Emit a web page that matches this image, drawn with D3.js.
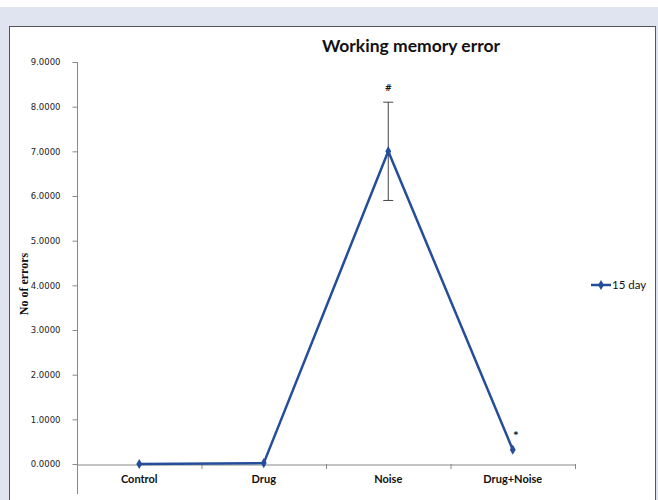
<!DOCTYPE html>
<html><head><meta charset="utf-8">
<script src="https://cdn.jsdelivr.net/npm/d3@7"></script>
<style>body{margin:0;background:#fff}svg{display:block}</style>
</head><body>
<script>
const categories = ["Control","Drug","Noise","Drug+Noise"];
const values = [0, 0.02, 7.0, 0.32];
const errLow = [null, null, 5.9, null];
const errHigh = [null, null, 8.1, null];
const marks = ["", "", "#", "*"];
const yTicks = [0,1,2,3,4,5,6,7,8,9];
const seriesName = "15 day";

const W = 658, H = 500;
const svg = d3.select("body").append("svg").attr("width", W).attr("height", H);
svg.append("rect").attr("x",0).attr("y",7).attr("width",W).attr("height",H-7).attr("fill","#e0e4f1");
svg.append("rect").attr("x",9.5).attr("y",26.5).attr("width",646).attr("height",480).attr("fill","#fff").attr("stroke","#555").attr("stroke-width",1);

const x = d3.scaleBand().domain(categories).range([77,575]);
const y = d3.scaleLinear().domain([0,9]).range([464,62]);
const axisColor = "#888";

// Y axis
const ya = svg.append("g").attr("transform","translate(77.5,0)")
  .call(d3.axisLeft(y).tickValues(yTicks).tickFormat(d3.format(".4f")).tickSize(5).tickPadding(12));
ya.select(".domain").remove();
ya.selectAll("line").attr("stroke",axisColor);
ya.selectAll("text").attr("font-family","Verdana, 'DejaVu Sans', sans-serif").attr("font-size",8.5).attr("fill","#222").attr("dy","0.35em");
svg.append("line").attr("x1",77.5).attr("x2",77.5).attr("y1",y(9)).attr("y2",494).attr("stroke",axisColor);

// X axis
const xa = svg.append("g").attr("transform","translate(0,"+(y(0)+0.5)+")")
  .call(d3.axisBottom(x).tickSize(0).tickPadding(11));
xa.select(".domain").attr("stroke",axisColor);
xa.selectAll("text").attr("font-family","Lato, 'Open Sans', sans-serif").attr("font-weight","bold").attr("font-size",11).attr("fill","#111");
const bounds = x.domain().map(d=>x(d)).concat([x.range()[1]]);
svg.append("g").selectAll("line").data(bounds.slice(1)).join("line")
  .attr("x1",d=>d+0.5).attr("x2",d=>d+0.5).attr("y1",y(0)).attr("y2",y(0)+5).attr("stroke",axisColor);

// Y label
svg.append("text").attr("transform","translate(28,"+284+") rotate(-90)")
  .attr("text-anchor","middle").attr("font-family","'Liberation Serif', 'Times New Roman', serif")
  .attr("font-weight","bold").attr("font-size",12).attr("fill","#111").text("No of errors");

// Title
svg.append("text").attr("x",411).attr("y",52).attr("text-anchor","middle")
  .attr("font-family","Lato, 'Open Sans', sans-serif").attr("font-weight","bold").attr("font-size",17.5).attr("fill","#111")
  .text("Working memory error");

const cx = d => x(d) + x.bandwidth()/2;
const data = categories.map((c,i)=>({c, v: values[i], lo: errLow[i], hi: errHigh[i], m: marks[i]}));

// Error bars
const eb = data.filter(d=>d.lo!=null);
const ebg = svg.append("g").attr("stroke","#444").attr("stroke-width",1);
eb.forEach(d=>{
  ebg.append("line").attr("x1",cx(d.c)).attr("x2",cx(d.c)).attr("y1",y(d.lo)).attr("y2",y(d.hi));
  ebg.append("line").attr("x1",cx(d.c)-5).attr("x2",cx(d.c)+5).attr("y1",y(d.lo)).attr("y2",y(d.lo));
  ebg.append("line").attr("x1",cx(d.c)-5).attr("x2",cx(d.c)+5).attr("y1",y(d.hi)).attr("y2",y(d.hi));
});

const blue = "#244d9b";
svg.append("path").datum(data).attr("fill","none").attr("stroke",blue).attr("stroke-width",2.5)
  .attr("stroke-linejoin","round")
  .attr("d", d3.line().x(d=>cx(d.c)).y(d=>y(d.v)));
const diamond = d3.symbol().type(d3.symbolDiamond).size(30);
svg.append("g").selectAll("path").data(data).join("path")
  .attr("transform",d=>"translate("+cx(d.c)+","+y(d.v)+")").attr("d",diamond).attr("fill",blue);

// Significance marks
svg.append("text").attr("x",cx("Noise")).attr("y",y(8.1)-11).attr("text-anchor","middle")
  .attr("font-family","'DejaVu Sans', sans-serif").attr("font-weight","bold").attr("font-size",8).attr("fill","#111").text(marks[2]);
svg.append("text").attr("x",cx("Drug+Noise")+3).attr("y",y(0.32)-12).attr("text-anchor","middle")
  .attr("font-family","'DejaVu Sans', sans-serif").attr("font-weight","bold").attr("font-size",9).attr("fill","#111").text(marks[3]);

// Legend
const lg = svg.append("g").attr("transform","translate(591,285)");
lg.append("line").attr("x1",0).attr("x2",20).attr("y1",0).attr("y2",0).attr("stroke",blue).attr("stroke-width",2.5);
lg.append("path").attr("transform","translate(10,0)").attr("d",diamond).attr("fill",blue);
lg.append("text").attr("x",21).attr("y",0).attr("dy","0.35em").attr("font-family","Lato, 'Open Sans', sans-serif")
  .attr("font-size",11.5).attr("fill","#111").text(seriesName);
</script>
</body></html>
